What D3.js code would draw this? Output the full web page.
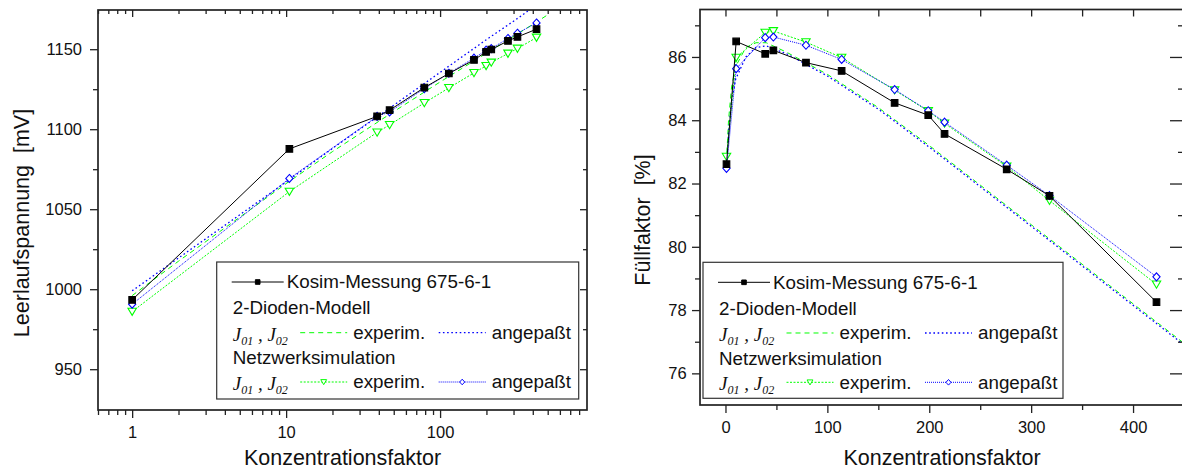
<!DOCTYPE html>
<html>
<head>
<meta charset="utf-8">
<script src="https://cdn.jsdelivr.net/npm/d3@7"></script>
<style>
  body { margin: 0; background: #fff; }
  svg { display: block; }
  text { font-family: "Liberation Sans", Arial, sans-serif; fill: #111; }
</style>
</head>
<body>
<svg id="chart" width="1182" height="470"></svg>
<script>
// Konzentrationsfaktoren der Messpunkte
const conc = [1, 10.5, 39, 47, 79, 114, 166, 199, 215, 276, 318, 423];

// Leerlaufspannung [mV]
const vocMessung = [993.3, 1087.7, 1108, 1111.9, 1126, 1134.8, 1143.3, 1148.3, 1149.8, 1155.2, 1157.7, 1162.5];
const vocNetzExperim = [986, 1061, 1098, 1102.7, 1116.4, 1125.8, 1135.2, 1139.6, 1141.7, 1147.3, 1150.4, 1157.3];
const vocNetzAngepasst = [990.6, 1069.2, 1108, 1110.8, 1125.4, 1135, 1144.4, 1149.4, 1150.4, 1156.7, 1160, 1166.4];
const vocModelConc = [1, 2, 5, 10, 20, 50, 100, 200, 300, 400, 500];
const vocDiodeExperim = [996, 1017.5, 1045, 1066, 1086, 1111, 1129.5, 1147.5, 1158, 1165.5, 1171.5];
const vocDiodeAngepasst = [999, 1019.5, 1046.5, 1067, 1088, 1115, 1135.5, 1156, 1167.5, 1176, 1182.5];

// Füllfaktor [%]
const ffMessung = [82.61, 86.49, 86.1, 86.21, 85.82, 85.56, 84.55, 84.16, 83.57, 82.45, 81.61, 78.25];
const ffNetzExperim = [82.85, 85.98, 86.77, 86.82, 86.47, 85.98, 84.95, 84.29, 83.9, 82.54, 81.46, 78.81];
const ffNetzAngepasst = [82.48, 85.63, 86.61, 86.63, 86.37, 85.92, 84.97, 84.3, 83.94, 82.58, 81.62, 79.05];
const ffModelConc = [1, 3, 6, 10, 20, 30, 40, 60, 80, 100, 150, 200, 250, 300, 350, 400, 450, 500];
const ffDiodeExperim = [82.7, 84.0, 85.05, 85.7, 86.3, 86.45, 86.45, 86.15, 85.8, 85.45, 84.4, 83.2, 81.95, 80.7, 79.45, 78.2, 76.95, 75.7];
const ffDiodeAngepasst = [82.5, 83.6, 84.6, 85.3, 86.0, 86.3, 86.35, 86.1, 85.75, 85.4, 84.35, 83.15, 81.9, 80.65, 79.4, 78.15, 76.9, 75.65];

// Achsen-Ticks
const vocXMajor = [1, 10, 100];
const vocXMinor = [0.6, 0.7, 0.8, 0.9, 2, 3, 4, 5, 6, 7, 8, 9, 20, 30, 40, 50, 60, 70, 80, 90, 200, 300, 400, 500, 600, 700, 800];
const vocYMajor = [950, 1000, 1050, 1100, 1150];
const vocYMinor = [975, 1025, 1075, 1125];
const ffXMajor = [0, 100, 200, 300, 400];
const ffXMinor = [50, 150, 250, 350];
const ffYMajor = [76, 78, 80, 82, 84, 86];
const ffYMinor = [77, 79, 81, 83, 85, 87];

const GREEN = '#00ff00';
const BLUE = '#0000ff';

const MARKERS = {
  square: 'M-3.3,-3.3h6.6v6.6h-6.6Z',
  triangle: 'M-4.2,-3.4L4.2,-3.4L0,3.8Z',
  diamond: 'M0,-4L3.6,0L0,4L-3.6,0Z'
};

const svg = d3.select('#chart');
const defs = svg.append('defs');

function styleAxis(a) {
  a.select('.domain').remove();
  a.selectAll('line').attr('stroke', '#222').attr('stroke-width', 1.3);
  a.selectAll('text')
    .attr('font-size', 16.5)
    .attr('fill', '#111')
    .attr('font-family', '"Liberation Sans", Arial, sans-serif');
  return a;
}

function addAxis(g, axis, tx, ty) {
  return styleAxis(g.append('g').attr('transform', `translate(${tx},${ty})`).call(axis));
}

function drawPanel(p) {
  const g = svg.append('g');

  defs.append('clipPath').attr('id', 'clip-' + p.id)
    .append('rect')
    .attr('x', p.left).attr('y', p.top)
    .attr('width', p.right - p.left).attr('height', p.bottom - p.top);

  // Kurven
  const plot = g.append('g').attr('clip-path', `url(#clip-${p.id})`);
  const line = d3.line().x(d => p.x(d[0])).y(d => p.y(d[1]));

  p.series.forEach(s => {
    const pts = d3.zip(s.xs, s.ys);
    plot.append('path')
      .datum(pts)
      .attr('d', line)
      .attr('fill', 'none')
      .attr('stroke', s.color)
      .attr('stroke-width', s.width)
      .attr('stroke-dasharray', s.dash);
    if (s.marker) {
      plot.append('g').selectAll('path')
        .data(pts)
        .enter()
        .append('path')
        .attr('d', MARKERS[s.marker])
        .attr('transform', d => `translate(${p.x(d[0])},${p.y(d[1])})`)
        .attr('fill', s.marker === 'square' ? s.color : '#fff')
        .attr('stroke', s.color)
        .attr('stroke-width', 1.1);
    }
  });

  // Achsen: unten/links nach außen, oben/rechts nach innen
  const bottom = addAxis(g, d3.axisBottom(p.x).tickValues(p.xMajor).tickSize(8).tickFormat(p.xFormat), 0, p.bottom);
  bottom.selectAll('text').attr('y', 27.5).attr('dy', 0);
  addAxis(g, d3.axisBottom(p.x).tickValues(p.xMinor).tickSize(5).tickFormat(''), 0, p.bottom);

  const left = addAxis(g, d3.axisLeft(p.y).tickValues(p.yMajor).tickSize(8).tickFormat(d3.format('d')), p.left, 0);
  left.selectAll('text').attr('x', -p.yLabelGap);
  addAxis(g, d3.axisLeft(p.y).tickValues(p.yMinor).tickSize(5).tickFormat(''), p.left, 0);

  addAxis(g, d3.axisBottom(p.x).tickValues(p.xMajor).tickSize(7).tickFormat(''), 0, p.top);
  addAxis(g, d3.axisBottom(p.x).tickValues(p.xMinor).tickSize(p.topMinor).tickFormat(''), 0, p.top);
  addAxis(g, d3.axisLeft(p.y).tickValues(p.yMajor).tickSize(p.rightMajor).tickFormat(''), p.right, 0);
  addAxis(g, d3.axisLeft(p.y).tickValues(p.yMinor).tickSize(p.rightMinor).tickFormat(''), p.right, 0);

  g.append('rect')
    .attr('x', p.left).attr('y', p.top)
    .attr('width', p.right - p.left).attr('height', p.bottom - p.top)
    .attr('fill', 'none')
    .attr('stroke', '#222')
    .attr('stroke-width', 1.7);

  // Achsentitel
  g.append('text')
    .attr('x', (p.left + p.right) / 2)
    .attr('y', 465)
    .attr('text-anchor', 'middle')
    .attr('font-size', 21.5)
    .text(p.xTitle);

  g.append('text')
    .attr('transform', `translate(${p.yTitleX},${p.yTitleY}) rotate(-90)`)
    .attr('text-anchor', 'middle')
    .attr('font-size', 21.5)
    .text(p.yTitle);

  drawLegend(g, p.legend);
}

function legendLine(lg, x1, x2, y, color, dash, width, marker) {
  lg.append('line')
    .attr('x1', x1).attr('x2', x2).attr('y1', y).attr('y2', y)
    .attr('stroke', color)
    .attr('stroke-width', width)
    .attr('stroke-dasharray', dash);
  if (marker) {
    lg.append('path')
      .attr('d', MARKERS[marker])
      .attr('transform', `translate(${(x1 + x2) / 2},${y}) scale(0.7)`)
      .attr('fill', marker === 'square' ? color : '#fff')
      .attr('stroke', color)
      .attr('stroke-width', 1.4);
  }
}

function legendText(lg, x, y, str) {
  lg.append('text').attr('x', x).attr('y', y).attr('font-size', 18.8).text(str);
}

function legendJ(lg, x, y) {
  const t = lg.append('text')
    .attr('x', x).attr('y', y + 1.5)
    .attr('font-style', 'italic')
    .attr('font-size', 19)
    .style('font-family', '"Liberation Serif", "Times New Roman", serif');
  t.append('tspan').text('J');
  t.append('tspan').attr('font-size', 12).attr('dy', 4).text('01');
  t.append('tspan').attr('dy', -4).text('\u00a0, J');
  t.append('tspan').attr('font-size', 12).attr('dy', 4).text('02');
}

function drawLegend(g, L) {
  const lg = g.append('g').attr('transform', `translate(${L.x},${L.y})`);
  lg.append('rect')
    .attr('width', L.w).attr('height', L.h)
    .attr('fill', '#fff')
    .attr('stroke', '#333')
    .attr('stroke-width', 1.2);

  const base = [26.3, 52.3, 77, 102.3, 126.3];
  const mid = b => b - 6.3;

  legendLine(lg, 15, 67, mid(base[0]), '#000', null, 1, 'square');
  legendText(lg, 70, base[0], 'Kosim-Messung 675-6-1');

  legendText(lg, 16, base[1], '2-Dioden-Modell');

  legendJ(lg, 16, base[2]);
  legendLine(lg, 83.5, 130.5, mid(base[2]), GREEN, '5,4', 1, null);
  legendText(lg, 136.5, base[2], 'experim.');
  legendLine(lg, 222, 269, mid(base[2]), BLUE, '1.6,2.6', 1.3, null);
  legendText(lg, 275, base[2], 'angepaßt');

  legendText(lg, 16, base[3], 'Netzwerksimulation');

  legendJ(lg, 16, base[4]);
  legendLine(lg, 83.5, 130.5, mid(base[4]), GREEN, '2,1.5', 1, 'triangle');
  legendText(lg, 136.5, base[4], 'experim.');
  legendLine(lg, 222, 269, mid(base[4]), BLUE, '1,1', 1, 'diamond');
  legendText(lg, 275, base[4], 'angepaßt');
}

function seriesList(xs, messung, netzExp, netzAng, modelX, diodeExp, diodeAng) {
  return [
    { xs: modelX, ys: diodeExp, color: GREEN, dash: '5,4', width: 1 },
    { xs: modelX, ys: diodeAng, color: BLUE, dash: '1.6,2.6', width: 1.3 },
    { xs: xs, ys: netzExp, color: GREEN, dash: '2,1.5', width: 1, marker: 'triangle' },
    { xs: xs, ys: netzAng, color: BLUE, dash: '1,1', width: 1, marker: 'diamond' },
    { xs: xs, ys: messung, color: '#000', dash: null, width: 1, marker: 'square' }
  ];
}

// Linkes Diagramm: Leerlaufspannung (log. Achse)
drawPanel({
  id: 'voc',
  left: 98, right: 587, top: 10, bottom: 410,
  x: d3.scaleLog().domain([0.6, 900]).range([98, 587]),
  y: d3.scaleLinear().domain([924.5, 1174.5]).range([410, 10]),
  xMajor: vocXMajor, xMinor: vocXMinor, xFormat: d3.format('d'),
  yMajor: vocYMajor, yMinor: vocYMinor, yLabelGap: 16,
  topMinor: 4, rightMajor: 7, rightMinor: 4,
  xTitle: 'Konzentrationsfaktor',
  yTitle: 'Leerlaufspannung\u00a0 [mV]', yTitleX: 28.5, yTitleY: 223,
  series: seriesList(conc, vocMessung, vocNetzExperim, vocNetzAngepasst, vocModelConc, vocDiodeExperim, vocDiodeAngepasst),
  legend: { x: 216.7, y: 262, w: 362, h: 137 }
});

// Rechtes Diagramm: Füllfaktor
drawPanel({
  id: 'ff',
  left: 700, right: 1184, top: 9.5, bottom: 405,
  x: d3.scaleLinear().domain([-25, 450]).range([700, 1184]),
  y: d3.scaleLinear().domain([75, 87.5]).range([405, 9.5]),
  xMajor: ffXMajor, xMinor: ffXMinor, xFormat: d3.format('d'),
  yMajor: ffYMajor, yMinor: ffYMinor, yLabelGap: 13.3,
  topMinor: 7, rightMajor: 14, rightMinor: 6,
  xTitle: 'Konzentrationsfaktor',
  yTitle: 'Füllfaktor\u00a0 [%]', yTitleX: 649.5, yTitleY: 220,
  series: seriesList(conc, ffMessung, ffNetzExperim, ffNetzAngepasst, ffModelConc, ffDiodeExperim, ffDiodeAngepasst),
  legend: { x: 703, y: 262.3, w: 360, h: 136 }
});
</script>
</body>
</html>
